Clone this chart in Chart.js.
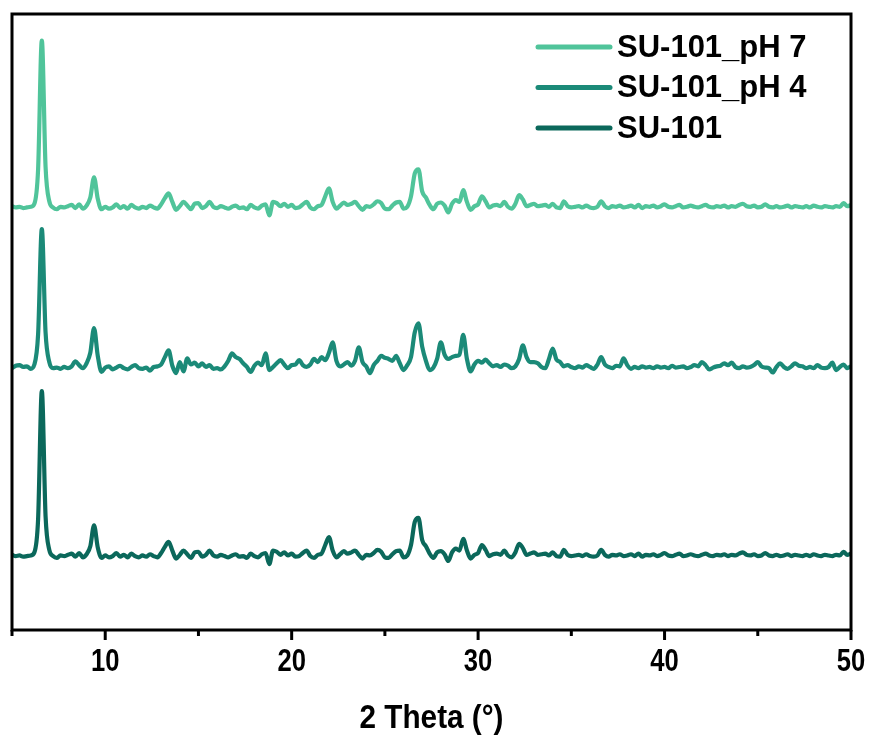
<!DOCTYPE html>
<html>
<head>
<meta charset="utf-8">
<script src="https://cdn.jsdelivr.net/npm/chart.js@4.4.1/dist/chart.umd.min.js"></script>
<style>
  html, body { margin: 0; padding: 0; background: #fff; }
  #wrap { width: 873px; height: 740px; position: relative; }
</style>
</head>
<body>
<div id="wrap"><canvas id="xrdChart"></canvas></div>
<script>
// 2 theta runs 5..50 in steps of 0.2 degrees
const THETA_START = 5;
const THETA_STEP = 0.2;

const SERIES_NAMES = ['SU-101_pH 7', 'SU-101_pH 4', 'SU-101'];
const SERIES_COLORS = ['#50c49a', '#1b8a78', '#0b685b'];
// vertical stacking offset of each pattern
const SERIES_OFFSETS = [68.6, 42.5, 12.0];

const X_TICKS = [10, 20, 30, 40, 50];
const X_TITLE = '2 Theta (°)';

// relative intensity, one row = 2 degrees
const PH7 = [
  0.2, 0.0, 0.1, -0.1, 0.0, 0.1, 0.6, 6.2, 27.1, 6.6,
  1.0, 0.0, -0.3, 0.1, 0.0, 0.2, 0.4, -0.1, 0.5, -0.2,
  0.3, 1.6, 4.9, 1.4, -0.3, 0.1, -0.2, 0.0, 0.5, -0.1,
  0.2, -0.2, 0.4, 0.0, -0.2, 0.1, -0.1, 0.3, 0.0, -0.2,
  0.5, 1.5, 2.3, 0.9, -0.4, 0.2, 0.9, 0.3, -0.3, 0.6,
  0.7, -0.1, 0.2, 0.9, 0.1, -0.1, 0.2, 0.0, -0.2, 0.1,
  0.3, -0.1, 0.0, -0.3, 0.4, 0.0, -0.2, 0.3, 0.5, -1.3,
  0.9, 0.7, 0.2, 0.6, 0.1, 0.4, -0.1, 0.0, 0.5, 0.9,
  0.0, -0.3, 0.2, 0.4, 1.8, 3.1, 0.9, -0.2, 0.3, 0.8,
  0.4, 0.6, 0.9, 0.2, -0.4, 0.2, 0.1, 0.5, 1.0, 0.7,
  -0.2, -0.3, 0.3, 0.8, 0.9, -0.2, 0.1, 1.8, 5.5, 6.2,
  2.6, 1.6, 0.4, -0.3, 0.6, 0.8, 0.3, -0.8, 0.6, 1.2,
  0.9, 2.8, 0.9, -0.4, 0.2, 0.5, 1.8, 1.0, 0.0, 0.3,
  0.4, 0.2, 0.9, 0.1, -0.2, 0.6, 2.0, 1.3, 0.2, 0.4,
  0.6, 0.2, 0.3, 0.4, 0.1, 0.6, 0.0, -0.1, 1.0, 0.2,
  0.0, 0.1, 0.2, 0.0, 0.3, 0.0, -0.1, 0.1, 1.0, 0.2,
  -0.1, 0.2, 0.1, 0.3, 0.0, 0.1, 0.3, 0.0, 0.4, -0.1,
  0.2, 0.1, 0.3, 0.0, 0.2, 0.5, 0.1, 0.0, 0.2, 0.4,
  0.0, 0.1, 0.3, 0.1, 0.0, 0.2, 0.4, 0.1, 0.0, 0.2,
  0.1, 0.3, 0.0, 0.2, 0.1, 0.4, 0.6, 0.2, 0.1, 0.3,
  0.0, 0.1, 0.5, 0.1, 0.0, 0.2, 0.0, 0.1, 0.3, 0.0,
  0.2, 0.1, 0.0, 0.2, 0.0, 0.3, 0.1, 0.0, 0.2, 0.1,
  0.0, 0.2, 0.1, 0.7, 0.2, 0.4
];

const PH4 = [
  0.0, 0.4, 0.5, 0.2, 0.3, -0.1, 0.6, 5.5, 22.6, 5.8,
  1.0, 0.0, 0.1, -0.1, 0.2, 0.0, 0.3, 1.1, 0.5, 0.0,
  0.8, 2.5, 6.5, 2.0, -0.6, 0.1, 0.3, -0.2, 0.1, 0.4,
  0.0, -0.2, 0.2, 0.5, 0.0, -0.1, 0.1, -0.4, 0.2, 0.3,
  0.6, 1.8, 2.9, 0.4, -0.8, 1.0, -0.5, 1.6, 0.6, 0.9,
  0.3, 0.8, 0.2, 0.5, -0.1, 0.0, -0.2, 0.3, 1.2, 2.4,
  1.8, 1.5, 0.8, 0.2, -0.6, 0.4, 0.9, 0.5, 2.4, -0.3,
  0.2, 0.8, 1.3, 0.6, 0.0, 0.5, 0.6, 1.3, 0.5, 0.2,
  0.6, 1.5, 1.0, 1.8, 1.3, 2.5, 4.2, 1.2, 0.3, 0.6,
  1.0, 0.4, 1.2, 3.4, 1.0, 0.3, -0.8, 0.5, 1.2, 2.0,
  1.7, 1.5, 1.2, 2.0, 0.8, -0.3, 0.5, 1.8, 5.8, 7.3,
  3.5, 1.2, -0.3, 0.1, 1.5, 4.2, 2.2, 1.5, 1.8, 2.0,
  2.2, 5.4, 1.5, -0.5, 0.6, 1.2, 0.9, 1.4, 0.8, 0.3,
  0.5, 0.2, 0.6, 0.4, 0.0, 0.3, 1.5, 3.7, 1.8, 1.0,
  1.0, 0.8, 0.2, 0.0, 1.5, 3.2, 1.4, 1.0, 0.3, 0.5,
  0.2, 0.0, 0.3, 0.1, 0.5, 0.2, -0.1, 0.6, 1.8, 0.6,
  0.2, 0.0, 0.4, 0.3, 1.6, 0.5, -0.1, 0.2, 0.0, 0.3,
  0.1, 0.2, 0.0, 0.3, 0.1, 0.2, 0.0, 0.4, 0.1, 0.2,
  0.3, 0.0, 0.2, 0.5, 0.3, 1.0, 0.5, -0.2, 0.1, 0.3,
  0.4, 0.8, 0.5, 0.9, 0.2, 0.0, 0.3, 0.1, 0.2, 0.5,
  1.0, 0.3, 0.1, 0.0, -0.7, 0.2, 0.8, 0.2, -0.1, 0.3,
  0.8, 0.4, 0.3, 0.0, 0.2, 0.0, 0.5, 0.1, 0.0, 0.2,
  0.9, -0.3, 0.2, 0.6, 0.0, 0.3
];

const SU101 = [
  0.2, 0.0, 0.1, -0.1, 0.0, 0.1, 0.6, 6.0, 26.8, 6.5,
  1.0, 0.0, -0.3, 0.1, 0.0, 0.2, 0.4, -0.1, 0.5, -0.2,
  0.3, 1.6, 5.0, 1.4, -0.3, 0.1, -0.2, 0.0, 0.5, -0.1,
  0.2, -0.2, 0.4, 0.0, -0.2, 0.1, -0.1, 0.3, 0.0, -0.2,
  0.5, 1.5, 2.3, 0.9, -0.4, 0.2, 0.9, 0.3, -0.3, 0.6,
  0.7, -0.1, 0.2, 0.9, 0.1, -0.1, 0.2, 0.0, -0.2, 0.1,
  0.3, -0.1, 0.0, -0.3, 0.4, 0.0, -0.2, 0.3, 0.5, -1.3,
  0.9, 0.7, 0.2, 0.6, 0.1, 0.4, -0.1, 0.0, 0.5, 0.9,
  0.0, -0.3, 0.2, 0.4, 1.8, 3.1, 0.9, -0.2, 0.3, 0.8,
  0.4, 0.6, 0.9, 0.2, -0.4, 0.2, 0.1, 0.5, 1.0, 0.7,
  -0.2, -0.3, 0.3, 0.8, 0.9, -0.2, 0.1, 1.8, 5.5, 6.2,
  2.6, 1.6, 0.4, -0.3, 0.6, 0.8, 0.3, -0.8, 0.6, 1.2,
  0.9, 2.8, 0.9, -0.4, 0.2, 0.5, 1.8, 1.0, 0.0, 0.3,
  0.4, 0.2, 0.9, 0.1, -0.2, 0.6, 2.0, 1.3, 0.2, 0.4,
  0.6, 0.2, 0.3, 0.4, 0.1, 0.6, 0.0, -0.1, 1.0, 0.2,
  0.0, 0.1, 0.2, 0.0, 0.3, 0.0, -0.1, 0.1, 1.0, 0.2,
  -0.1, 0.2, 0.1, 0.3, 0.0, 0.1, 0.3, 0.0, 0.4, -0.1,
  0.2, 0.1, 0.3, 0.0, 0.2, 0.5, 0.1, 0.0, 0.2, 0.4,
  0.0, 0.1, 0.3, 0.1, 0.0, 0.2, 0.4, 0.1, 0.0, 0.2,
  0.1, 0.3, 0.0, 0.2, 0.1, 0.4, 0.6, 0.2, 0.1, 0.3,
  0.0, 0.1, 0.5, 0.1, 0.0, 0.2, 0.0, 0.1, 0.3, 0.0,
  0.2, 0.1, 0.0, 0.2, 0.0, 0.3, 0.1, 0.0, 0.2, 0.1,
  0.0, 0.2, 0.1, 0.7, 0.2, 0.4
];

const SANS = "'Liberation Sans', Arial, sans-serif";

function toPoints(values, offset) {
  return values.map((v, i) => ({ x: THETA_START + i * THETA_STEP, y: v + offset }));
}

// condensed bold text (no narrow font installed, so squeeze it)
function narrowText(ctx, text, x, y, size, squeeze) {
  ctx.save();
  ctx.translate(x, y);
  ctx.scale(squeeze, 1);
  ctx.font = 'bold ' + size + 'px ' + SANS;
  ctx.textAlign = 'center';
  ctx.textBaseline = 'middle';
  ctx.fillStyle = '#000';
  ctx.fillText(text, 0, 0);
  ctx.restore();
}

// box around the plot, x ticks, tick labels and axis title
const framePlugin = {
  id: 'frame',
  afterDraw(chart) {
    const ctx = chart.ctx;
    const a = chart.chartArea;
    const xs = chart.scales.x;
    ctx.save();
    ctx.strokeStyle = '#000';
    ctx.lineWidth = 3;
    ctx.strokeRect(a.left, a.top, a.right - a.left, a.bottom - a.top);
    xs.ticks.forEach(t => {
      const px = xs.getPixelForValue(t.value);
      const len = t.value % 10 === 0 ? 10 : 6;
      ctx.beginPath();
      ctx.moveTo(px, a.bottom);
      ctx.lineTo(px, a.bottom + len);
      ctx.stroke();
    });
    ctx.restore();
    X_TICKS.forEach(v => {
      narrowText(ctx, String(v), xs.getPixelForValue(v), a.bottom + 32, 32, 0.8);
    });
    narrowText(ctx, X_TITLE, (a.left + a.right) / 2, a.bottom + 89, 33, 0.9);
  }
};

const legendPlugin = {
  id: 'sideLegend',
  afterDraw(chart) {
    const ctx = chart.ctx;
    ctx.save();
    ctx.font = 'bold 31px ' + SANS;
    ctx.textBaseline = 'middle';
    chart.data.datasets.forEach((ds, i) => {
      const y = 47 + i * 40.5;
      ctx.strokeStyle = ds.borderColor;
      ctx.lineWidth = 5;
      ctx.lineCap = 'round';
      ctx.beginPath();
      ctx.moveTo(538, y);
      ctx.lineTo(610, y);
      ctx.stroke();
      ctx.fillStyle = '#000';
      ctx.fillText(ds.label, 617, y + 1);
    });
    ctx.restore();
  }
};

const seriesValues = [PH7, PH4, SU101];

const datasets = SERIES_NAMES.map((name, i) => ({
  label: name,
  data: toPoints(seriesValues[i], SERIES_OFFSETS[i]),
  borderColor: SERIES_COLORS[i],
  borderWidth: 4.2,
  borderJoinStyle: 'round',
  pointRadius: 0,
  cubicInterpolationMode: 'monotone',
  fill: false
}));

new Chart(document.getElementById('xrdChart').getContext('2d'), {
  type: 'line',
  data: { datasets: datasets },
  options: {
    responsive: true,
    maintainAspectRatio: false,
    animation: false,
    layout: { padding: { left: 12, right: 22, top: 14, bottom: 0 } },
    plugins: {
      legend: { display: false },
      tooltip: { enabled: false }
    },
    scales: {
      x: {
        type: 'linear',
        min: 5,
        max: 50,
        grid: { display: false },
        border: { display: false },
        afterFit(scale) { scale.height = 110; },
        ticks: { stepSize: 5, display: false }
      },
      y: {
        display: false,
        min: 0,
        max: 100
      }
    }
  },
  plugins: [framePlugin, legendPlugin]
});
</script>
</body>
</html>
